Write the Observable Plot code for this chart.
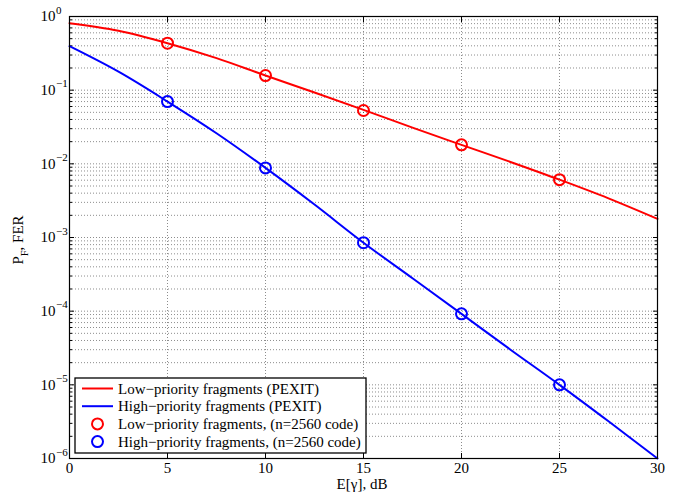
<!DOCTYPE html>
<html>
<head>
<meta charset="utf-8">
<script src="https://cdn.jsdelivr.net/npm/d3@7"></script>
<script src="https://cdn.jsdelivr.net/npm/@observablehq/plot@0.6"></script>
<style>
  html, body { margin: 0; padding: 0; background: white; }
  svg { display: block; }
</style>
</head>
<body>
<div id="chart"></div>
<script>
// ---- data ----
const xLine = [0, 2.5, 5, 7.5, 10, 12.5, 15, 17.5, 20, 22.5, 25, 27.5, 30];
const lowLine = [0.81, 0.64, 0.434, 0.272, 0.158, 0.093, 0.054, 0.031, 0.0181, 0.0106, 0.0061, 0.0034, 0.00179];
const highLine = [0.395, 0.178, 0.070, 0.026, 0.0088, 0.0028, 0.00085, 0.00028, 0.000092, 0.000030, 0.00001, 0.0000032, 0.000001];
const xSim = [5, 10, 15, 20, 25];
const lowSim = [0.434, 0.158, 0.053, 0.0181, 0.0061];
const highSim = [0.070, 0.0088, 0.00085, 0.000092, 0.00001];
const xTicks = [0, 5, 10, 15, 20, 25, 30];
const xGrid = [5, 10, 15, 20, 25];
const yDecades = [1e-6, 1e-5, 1e-4, 1e-3, 1e-2, 1e-1, 1];
const yExp = [-6, -5, -4, -3, -2, -1, 0];
const minorMult = [2, 3, 4, 5, 6, 7, 8, 9];
const legendLabels = [
  "Low\u2212priority fragments (PEXIT)",
  "High\u2212priority fragments (PEXIT)",
  "Low\u2212priority fragments, (n=2560 code)",
  "High\u2212priority fragments, (n=2560 code)"
];
const legendColors = ["#ff0000", "#0000ff", "#ff0000", "#0000ff"];
const legendKinds = ["line", "line", "circle", "circle"];

// ---- derived tables ----
const yMinor = yDecades.slice(0, -1).flatMap(d => minorMult.map(m => m * d));
const yGrid = yDecades.slice(1, -1).concat(yMinor);
const lowLineData = xLine.map((x, i) => ({x, y: lowLine[i]}));
const highLineData = xLine.map((x, i) => ({x, y: highLine[i]}));
const lowSimData = xSim.map((x, i) => ({x, y: lowSim[i]}));
const highSimData = xSim.map((x, i) => ({x, y: highSim[i]}));
const decadeData = yDecades.map((v, i) => ({v, e: yExp[i]}));

const gridStyle = {stroke: "#000", strokeOpacity: 0.45, strokeDasharray: "1,2"};
const font = "'Liberation Serif', 'Times New Roman', serif";

const plot = Plot.plot({
  width: 676,
  height: 496,
  marginLeft: 69,
  marginRight: 19,
  marginTop: 16,
  marginBottom: 38,
  style: {fontFamily: font, fontSize: "15px", background: "white", color: "black"},
  x: {domain: [0, 30]},
  y: {type: "log", domain: [1e-6, 1]},
  marks: [
    Plot.ruleY(yGrid, {y: d => d, ...gridStyle}),
    Plot.ruleX(xGrid, {x: d => d, ...gridStyle}),
    Plot.axisX({ticks: xTicks, tickSize: -5, tickFormat: () => "", label: null}),
    Plot.axisX({anchor: "top", ticks: xTicks, tickSize: -5, tickFormat: () => "", label: null}),
    Plot.axisX({ticks: xTicks, tickSize: 0, tickPadding: 4, label: null, fontSize: 15}),
    Plot.axisY({ticks: yDecades, tickSize: -5, tickFormat: () => "", label: null}),
    Plot.axisY({anchor: "right", ticks: yDecades, tickSize: -5, tickFormat: () => "", label: null}),
    Plot.axisY({ticks: yMinor, tickSize: -3, tickFormat: () => "", label: null}),
    Plot.axisY({anchor: "right", ticks: yMinor, tickSize: -3, tickFormat: () => "", label: null}),
    Plot.text(decadeData, {y: "v", frameAnchor: "left", text: () => "10", dx: -14, textAnchor: "end", fontSize: 15}),
    Plot.text(decadeData, {y: "v", frameAnchor: "left", text: d => (d.e < 0 ? "\u2212" + (-d.e) : String(d.e)), dx: -13.5, dy: -6.5, textAnchor: "start", fontSize: 11}),
    Plot.line(lowLineData, {x: "x", y: "y", stroke: "#ff0000", strokeWidth: 2, curve: "catmull-rom"}),
    Plot.line(highLineData, {x: "x", y: "y", stroke: "#0000ff", strokeWidth: 2, curve: "catmull-rom"}),
    Plot.dot(lowSimData, {x: "x", y: "y", r: 5.5, stroke: "#ff0000", strokeWidth: 2, fill: "none"}),
    Plot.dot(highSimData, {x: "x", y: "y", r: 5.5, stroke: "#0000ff", strokeWidth: 2, fill: "none"}),
    Plot.frame({stroke: "black", strokeWidth: 1.2})
  ]
});

// ---- axis labels and legend ----
const svg = d3.select(plot);

svg.append("text")
  .attr("x", 362).attr("y", 489)
  .attr("text-anchor", "middle")
  .attr("font-family", font).attr("font-size", 15).style("fill", "black")
  .text("E[\u03b3], dB");

const yl = svg.append("text")
  .attr("transform", "translate(23,240) rotate(-90)")
  .attr("text-anchor", "middle")
  .attr("font-family", font).attr("font-size", 15).style("fill", "black");
yl.append("tspan").text("P");
yl.append("tspan").attr("font-size", 10.5).attr("dy", 4.5).text("F");
yl.append("tspan").attr("dy", -4.5).text(", FER");

const lg = svg.append("g").attr("text-anchor", "start");
lg.append("rect").attr("x", 75).attr("y", 378).attr("width", 291).attr("height", 75)
  .style("fill", "#ffffff").attr("stroke", "black").attr("stroke-width", 1.3);
const rowY = [388.5, 406.2, 423.9, 441.6];
legendLabels.forEach((lab, i) => {
  const y = rowY[i];
  if (legendKinds[i] === "line") {
    lg.append("line").attr("x1", 82).attr("x2", 113).attr("y1", y).attr("y2", y)
      .style("stroke", legendColors[i]).attr("stroke-width", 2);
  } else {
    lg.append("circle").attr("cx", 97.5).attr("cy", y).attr("r", 5.5)
      .style("fill", "none").style("stroke", legendColors[i]).attr("stroke-width", 2);
  }
  lg.append("text").attr("x", 118).attr("y", y).attr("dy", "0.35em")
    .attr("text-anchor", "start")
    .attr("font-family", font).attr("font-size", 15).style("fill", "black").text(lab);
});

document.getElementById("chart").appendChild(plot);
</script>
</body>
</html>
